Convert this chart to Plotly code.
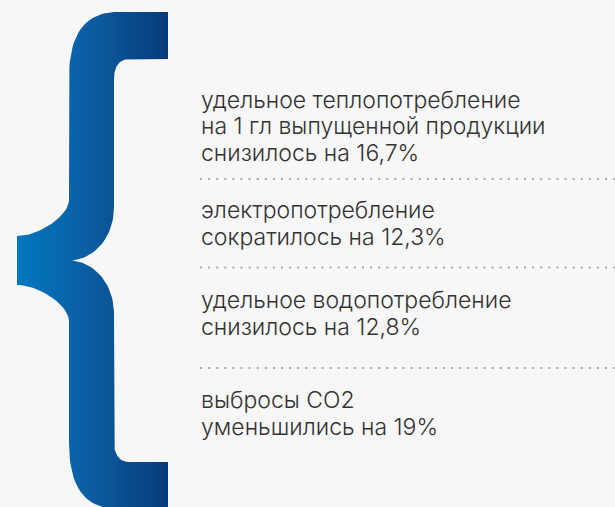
import plotly.graph_objects as go

# ---- data ----
labels = [
    ["удельное теплопотребление", "на 1 гл выпущенной продукции", "снизилось на 16,7%"],
    ["электропотребление", "сократилось на 12,3%"],
    ["удельное водопотребление", "снизилось на 12,8%"],
    ["выбросы СО2", "уменьшились на 19%"],
]
label_y = [126, 223.5, 313.5, 413.5]
separator_y = [179, 267.5, 368]

W, H = 615, 507
BG = "#f7f7f7"
LINE_STEP = 26.5


def bez(p0, p1, p2, p3, n=24):
    pts = []
    for i in range(n + 1):
        t = i / n
        a, b, c, d = (1 - t) ** 3, 3 * (1 - t) ** 2 * t, 3 * (1 - t) * t ** 2, t ** 3
        pts.append((a * p0[0] + b * p1[0] + c * p2[0] + d * p3[0],
                    a * p0[1] + b * p1[1] + c * p2[1] + d * p3[1]))
    return pts


# brace outline (pixel space, y downward), symmetric around mid
mid = 260.5
def m(y):
    return 2 * mid - y

top_half = []
top_half += [(118, 12), (168, 12), (168, 59), (130, 59)]
top_half += bez((130, 59), (119, 59), (114, 66), (114, 80))
top_half += [(114, 207)]
top_half += bez((114, 207), (114, 236), (96, 258), (72, mid))

inner_bottom = [(x, m(y)) for (x, y) in reversed(top_half[3:])]
outer = []
outer += [(118, m(12))]
outer += bez((118, m(12)), (88, m(12)), (69, m(30)), (69, m(78)))
outer += [(69, m(200))]
outer += bez((69, m(200)), (69, m(215)), (40, m(236)), (17, m(236)))
outer += [(17, 236)]
outer += bez((17, 236), (40, 236), (69, 215), (69, 200))
outer += [(69, 78)]
outer += bez((69, 78), (69, 30), (88, 12), (118, 12))

path = top_half + inner_bottom + [(168, m(59)), (168, m(12))] + outer
bx = [p[0] for p in path]
by = [p[1] for p in path]

fig = go.Figure()
fig.add_trace(go.Scatter(
    x=bx, y=by, mode="lines", fill="toself",
    line=dict(width=0, color="rgba(0,0,0,0)"),
    fillgradient=dict(type="horizontal",
                      colorscale=[[0, "#0277bf"], [0.5, "#0c5ca0"], [1, "#063b79"]]),
    hoverinfo="skip", showlegend=False,
))

for y in separator_y:
    fig.add_shape(type="line", x0=200, x1=W + 5, y0=y, y1=y,
                  line=dict(color="#a8a8a8", width=2, dash="2px,6.1px"))

for lines, yc in zip(labels, label_y):
    n = len(lines)
    for i, ln in enumerate(lines):
        y = yc + (i - (n - 1) / 2) * LINE_STEP
        fig.add_annotation(x=198.5, y=y, text=ln, showarrow=False,
                           xanchor="left", yanchor="middle", align="left",
                           font=dict(family="Inter", size=23, color="#333333", weight=300))

fig.update_layout(
    width=W, height=H, margin=dict(l=0, r=0, t=0, b=0),
    paper_bgcolor=BG, plot_bgcolor=BG,
    xaxis=dict(range=[0, W], visible=False, fixedrange=True),
    yaxis=dict(range=[H, 0], visible=False, fixedrange=True),
)
fig.write_html("out.html", config=dict(displayModeBar=False),
               post_script="document.body.style.margin='0';document.body.style.background='#f7f7f7';document.body.style.overflow='hidden';")
